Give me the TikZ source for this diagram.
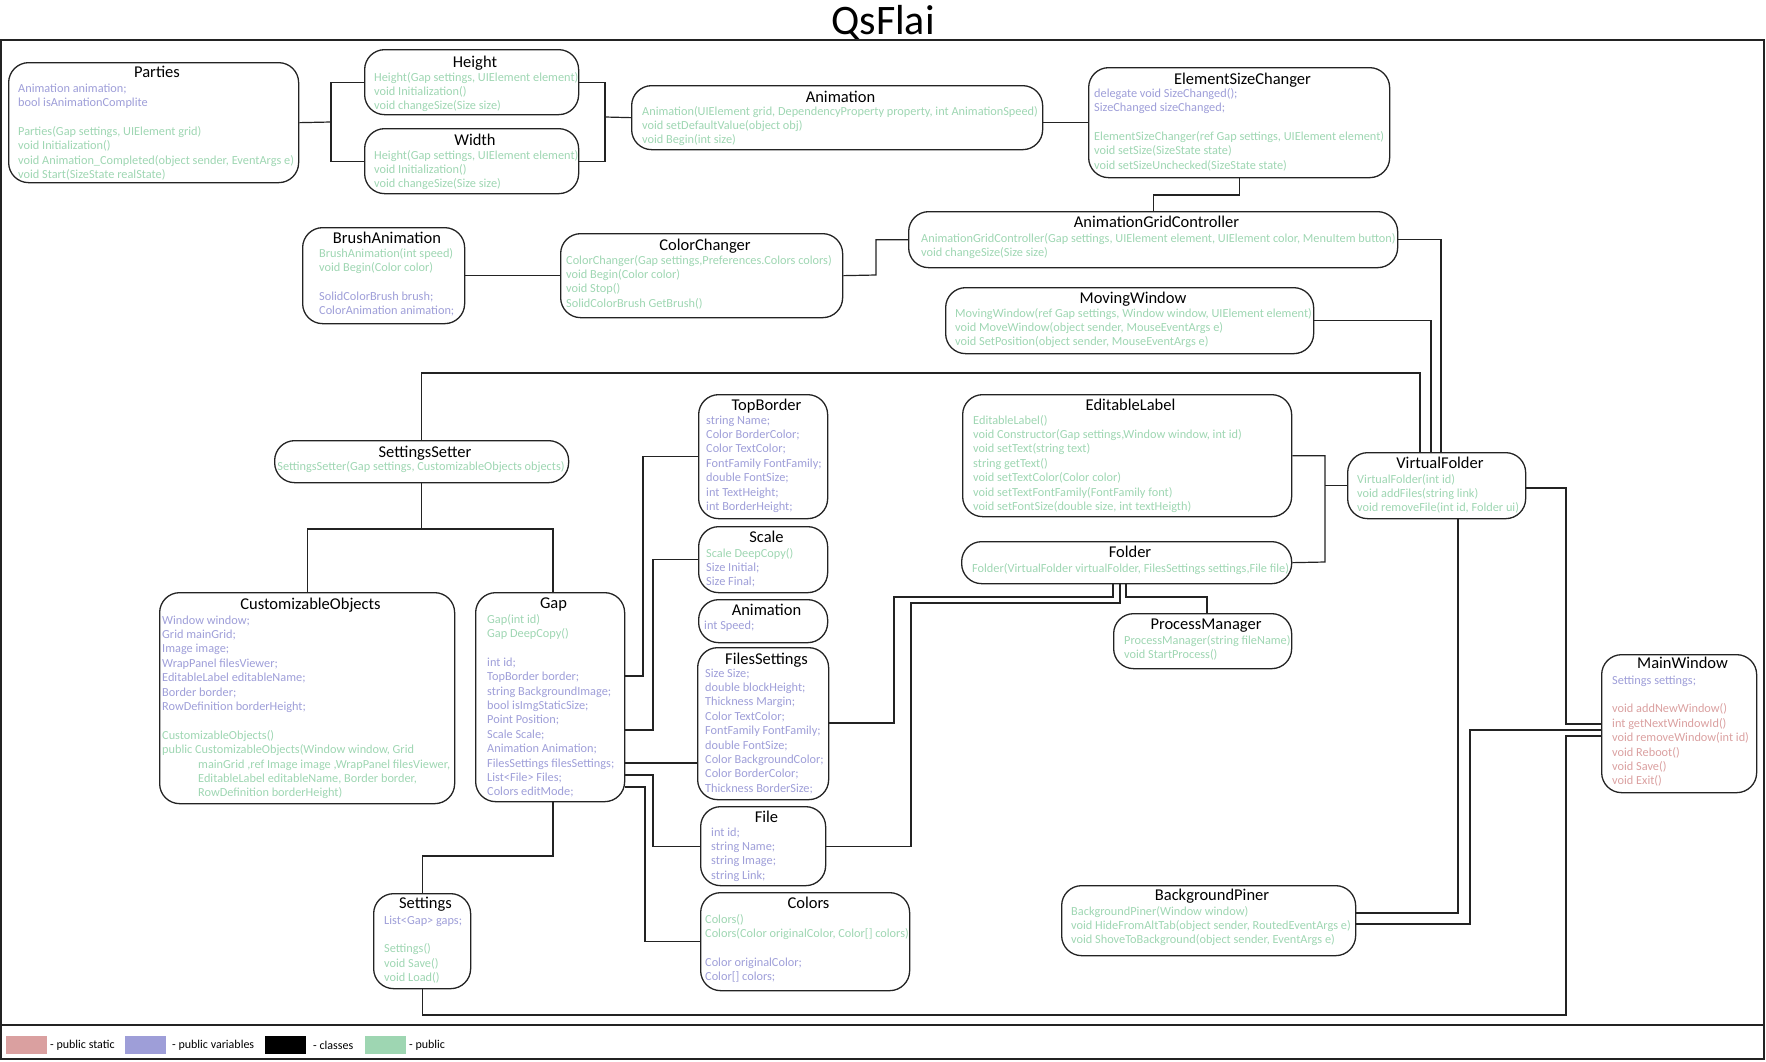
\documentclass[tikz,border=0pt]{standalone}
\usepackage{fontspec}
\setmainfont{Carlito}

\definecolor{cgreen}{RGB}{158,214,178}
\definecolor{cblue}{RGB}{158,158,216}
\definecolor{cpink}{RGB}{218,160,160}
\definecolor{cline}{RGB}{35,35,35}

% one coloured member line; \lnB is an empty line
\newcommand\lnG[1]{\hbox{\color{cgreen}#1}}
\newcommand\lnV[1]{\hbox{\color{cblue}#1}}
\newcommand\lnS[1]{\hbox{\color{cpink}#1}}
\newcommand\lnB{\hbox{}}
% stack of member lines, baseline = first line
\newcommand\members[1]{\vtop{\baselineskip=14.4pt\lineskiplimit=-20pt\relax#1}}

\tikzset{
  x=1pt, y=-1pt,
  clsbox/.style={draw=cline, line width=1.3pt, rounded corners=20pt, inner sep=0pt},
  clstitle/.style={font=\fontsize{16.5}{18}\selectfont, inner sep=0pt, text=black},
  clsbody/.style={font=\fontsize{12.3}{14.4}\selectfont, inner sep=0pt, anchor=base west},
  conn/.style={draw=cline, line width=1.2pt},
  frame/.style={draw=cline, line width=1.8pt},
  swatch/.style={inner sep=0pt, minimum width=41, minimum height=18, anchor=north west},
  legendtxt/.style={font=\fontsize{12}{14}\selectfont, inner sep=0pt, anchor=base west}
}

% class box: name, x1, y1, x2, y2, title, title baseline
\newcommand\classbox[7]{%
  \node[clsbox, minimum width={(#4)-(#2)}, minimum height={(#5)-(#3)}, anchor=north west] (#1) at (#2,#3) {};
  \node[clstitle, anchor=base] (#1-title) at ({((#2)+(#4))/2+4},#7) {#6};
}

\begin{document}
\begin{tikzpicture}
\useasboundingbox (0,0) rectangle (1766,1061);

\node[anchor=base, inner sep=0pt, font=\fontsize{42}{44}\selectfont] (heading) at (883,34) {QsFlai};

% outer frame and legend strip
\draw[frame] (1,40) rectangle (1764,1059);
\draw[frame] (1,1025) -- (1764,1025);

% ---------------- classes ----------------
\classbox{parties}{8}{62}{298}{182}{Parties}{77}
\node[clsbody] (parties-m) at (18,92) {\members{%
  \lnV{Animation animation;}\lnV{bool isAnimationComplite}\lnB
  \lnG{Parties(Gap settings, UIElement grid)}\lnG{void Initialization()}
  \lnG{void Animation\_Completed(object sender, EventArgs e)}\lnG{void Start(SizeState realState)}}};

\classbox{height}{364}{49}{578}{114}{Height}{67}
\node[clsbody] (height-m) at (374,81) {\members{%
  \lnG{Height(Gap settings, UIElement element)}\lnG{void Initialization()}\lnG{void changeSize(Size size)}}};

\classbox{width}{364}{128}{578}{193}{Width}{145}
\node[clsbody] (width-m) at (374,159) {\members{%
  \lnG{Height(Gap settings, UIElement element)}\lnG{void Initialization()}\lnG{void changeSize(Size size)}}};

\classbox{anim}{631}{85}{1042}{149}{Animation}{102}
\node[clsbody] (anim-m) at (642,115) {\members{%
  \lnG{Animation(UIElement grid, DependencyProperty property, int AnimationSpeed)}
  \lnG{void setDefaultValue(object obj)}\lnG{void Begin(int size)}}};

\classbox{esc}{1088}{67}{1389}{177}{ElementSizeChanger}{84}
\node[clsbody] (esc-m) at (1094,97) {\members{%
  \lnV{delegate void SizeChanged();}\lnV{SizeChanged sizeChanged;}\lnB
  \lnG{ElementSizeChanger(ref Gap settings, UIElement element)}
  \lnG{void setSize(SizeState state)}\lnG{void setSizeUnchecked(SizeState state)}}};

\classbox{ba}{302}{227}{464}{323}{BrushAnimation}{243}
\node[clsbody] (ba-m) at (319,257) {\members{%
  \lnG{BrushAnimation(int speed)}\lnG{void Begin(Color color)}\lnB
  \lnV{SolidColorBrush brush;}\lnV{ColorAnimation animation;}}};

\classbox{cc}{560}{233}{842}{317}{ColorChanger}{250}
\node[clsbody] (cc-m) at (566,264) {\members{%
  \lnG{ColorChanger(Gap settings,Preferences.Colors colors)}\lnG{void Begin(Color color)}
  \lnG{void Stop()}\lnG{SolidColorBrush GetBrush()}}};

\classbox{agc}{908}{211}{1397}{267}{AnimationGridController}{227}
\node[clsbody] (agc-m) at (921,242) {\members{%
  \lnG{AnimationGridController(Gap settings, UIElement element, UIElement color, MenuItem button)}
  \lnG{void changeSize(Size size)}}};

\classbox{mw}{945}{287}{1313}{353}{MovingWindow}{303}
\node[clsbody] (mw-m) at (955,317) {\members{%
  \lnG{MovingWindow(ref Gap settings, Window window, UIElement element)}
  \lnG{void MoveWindow(object sender, MouseEventArgs e)}
  \lnG{void SetPosition(object sender, MouseEventArgs e)}}};

\classbox{ss}{274}{440}{568}{482}{SettingsSetter}{457}
\node[clsbody, anchor=base] (ss-m) at (421,470) {\members{%
  \lnG{SettingsSetter(Gap settings, CustomizableObjects objects)}}};

\classbox{tb}{698}{394}{827}{518}{TopBorder}{410}
\node[clsbody] (tb-m) at (706,424) {\members{%
  \lnV{string Name;}\lnV{Color BorderColor;}\lnV{Color TextColor;}\lnV{FontFamily FontFamily;}
  \lnV{double FontSize;}\lnV{int TextHeight;}\lnV{int BorderHeight;}}};

\classbox{scale}{698}{526}{827}{592}{Scale}{542}
\node[clsbody] (scale-m) at (706,557) {\members{%
  \lnG{Scale DeepCopy()}\lnV{Size Initial;}\lnV{Size Final;}}};

\classbox{animb}{698}{599}{827}{642}{Animation}{615}
\node[clsbody] (animb-m) at (704,629) {\members{\lnV{int Speed;}}};

\classbox{el}{962}{394}{1291}{516}{EditableLabel}{410}
\node[clsbody] (el-m) at (973,424) {\members{%
  \lnG{EditableLabel()}\lnG{void Constructor(Gap settings,Window window, int id)}
  \lnG{void setText(string text)}\lnG{string getText()}\lnG{void setTextColor(Color color)}
  \lnG{void setTextFontFamily(FontFamily font)}\lnG{void setFontSize(double size, int textHeigth)}}};

\classbox{vf}{1347}{452}{1525}{518}{VirtualFolder}{468}
\node[clsbody] (vf-m) at (1357,483) {\members{%
  \lnG{VirtualFolder(int id)}\lnG{void addFiles(string link)}\lnG{void removeFile(int id, Folder ui)}}};

\classbox{folder}{961}{541}{1291}{583}{Folder}{557}
\node[clsbody] (folder-m) at (972,572) {\members{%
  \lnG{Folder(VirtualFolder virtualFolder, FilesSettings settings,File file)}}};

\classbox{pm}{1113}{613}{1291}{668}{ProcessManager}{629}
\node[clsbody] (pm-m) at (1124,644) {\members{%
  \lnG{ProcessManager(string fileName)}\lnG{void StartProcess()}}};

\classbox{co}{159}{592}{454}{803}{CustomizableObjects}{609}
\node[clsbody] (co-m) at (162,624) {\members{%
  \lnV{Window window;}\lnV{Grid mainGrid;}\lnV{Image image;}\lnV{WrapPanel filesViewer;}
  \lnV{EditableLabel editableName;}\lnV{Border border;}\lnV{RowDefinition borderHeight;}\lnB
  \lnG{CustomizableObjects()}\lnG{public CustomizableObjects(Window window, Grid}
  \lnG{\kern36pt mainGrid ,ref Image image ,WrapPanel filesViewer,}
  \lnG{\kern36pt EditableLabel editableName, Border border,}
  \lnG{\kern36pt RowDefinition borderHeight)}}};

\classbox{gap}{475}{592}{624}{801}{Gap}{608}
\node[clsbody] (gap-m) at (487,623) {\members{%
  \lnG{Gap(int id)}\lnG{Gap DeepCopy()}\lnB
  \lnV{int id;}\lnV{TopBorder border;}\lnV{string BackgroundImage;}\lnV{bool isImgStaticSize;}
  \lnV{Point Position;}\lnV{Scale Scale;}\lnV{Animation Animation;}\lnV{FilesSettings filesSettings;}
  \lnV{List<File> Files;}\lnV{Colors editMode;}}};

\classbox{fs}{697}{647}{828}{799}{FilesSettings}{664}
\node[clsbody] (fs-m) at (705,677) {\members{%
  \lnV{Size Size;}\lnV{double blockHeight;}\lnV{Thickness Margin;}\lnV{Color TextColor;}
  \lnV{FontFamily FontFamily;}\lnV{double FontSize;}\lnV{Color BackgroundColor;}
  \lnV{Color BorderColor;}\lnV{Thickness BorderSize;}}};

\classbox{file}{700}{806}{825}{885}{File}{822}
\node[clsbody] (file-m) at (711,836) {\members{%
  \lnV{int id;}\lnV{string Name;}\lnV{string Image;}\lnV{string Link;}}};

\classbox{colors}{700}{892}{909}{990}{Colors}{908}
\node[clsbody] (colors-m) at (705,923) {\members{%
  \lnG{Colors()}\lnG{Colors(Color originalColor, Color[] colors)}\lnB
  \lnV{Color originalColor;}\lnV{Color[] colors;}}};

\classbox{settings}{373}{893}{470}{988}{Settings}{908}
\node[clsbody] (settings-m) at (384,924) {\members{%
  \lnV{List<Gap> gaps;}\lnB\lnG{Settings()}\lnG{void Save()}\lnG{void Load()}}};

\classbox{bp}{1061}{885}{1355}{955}{BackgroundPiner}{900}
\node[clsbody] (bp-m) at (1071,915) {\members{%
  \lnG{BackgroundPiner(Window window)}\lnG{void HideFromAltTab(object sender, RoutedEventArgs e)}
  \lnG{void ShoveToBackground(object sender, EventArgs e)}}};

\classbox{mainw}{1601}{654}{1756}{792}{MainWindow}{668}
\node[clsbody] (mainw-m) at (1612,684) {\members{%
  \lnV{Settings settings;}\lnB
  \lnS{void addNewWindow()}\lnS{int getNextWindowId()}\lnS{void removeWindow(int id)}
  \lnS{void Reboot()}\lnS{void Save()}\lnS{void Exit()}}};

% ---------------- connectors ----------------
\draw[conn] (height.west) -| (331,122) |- (width.west);
\draw[conn] (parties.east) -- (331,122);
\draw[conn] (height.east) -| (605,117) |- (width.east);
\draw[conn] (605,117) -- (anim.west);
\draw[conn] (anim.east |- esc.west) -- (esc.west);
\draw[conn] (esc.south) -- (esc.south |- 0,195) -| (agc.north);

\draw[conn] (ba.east) -- (cc.west);
\draw[conn] (cc.east) -- (876,275) |- (agc.west);

\draw[conn] (agc.east) -| (vf.north -| 1441,0);
\draw[conn] (mw.east) -| (vf.north -| 1431,0);
\draw[conn] (ss.north) |- (1420,373) -- (vf.north -| 1420,0);

\draw[conn] (el.east) -| (1325,562) -- (folder.east);
\draw[conn] (vf.west) -- (vf.west -| 1325,0);

\draw[conn] (vf.east |- 0,488) -| (1566,724) -- (mainw.west |- 0,724);
\draw[conn] (settings.south) |- (1566,1015) |- (mainw.west |- 0,736);
\draw[conn] (mainw.west |- 0,730) -| (1470,924) -- (bp.east |- 0,924);
\draw[conn] (vf.south -| 1458,0) |- (bp.east |- 0,913);

\draw[conn] (ss.south) -- (ss.south |- 0,529);
\draw[conn] (co.north) |- (553,529) -- (gap.north -| 553,0);
\draw[conn] (gap.south -| 553,0) -- (553,856) -| (settings.north);

\draw[conn] (gap.east |- 0,676) -| (tb.west -| 643,0) -- (tb.west);
\draw[conn] (gap.east |- 0,730) -| (scale.west -| 653,0) -- (scale.west);
\draw[conn] (gap.east |- 0,763) -- (fs.west |- 0,763);
\draw[conn] (gap.east |- 0,775) -| (file.west -| 653,0) -- (file.west);
\draw[conn] (gap.east |- 0,787) -| (colors.west -| 645,0) -- (colors.west);

\draw[conn] (fs.east |- 0,723) -| (894,597) -| (folder.south -| 1113,0);
\draw[conn] (file.east) -| (911,603) -| (folder.south -| 1120,0);
\draw[conn] (folder.south -| 1126,0) |- (1207,597) -- (pm.north -| 1207,0);

% ---------------- legend ----------------
\node[swatch, fill=cpink] (lg-static) at (6,1036) {};
\node[legendtxt] (lg-static-t) at (50,1048) {- public static};
\node[swatch, fill=cblue] (lg-var) at (125,1036) {};
\node[legendtxt] (lg-var-t) at (172,1048) {- public variables};
\node[swatch, fill=black] (lg-cls) at (265,1036) {};
\node[legendtxt] (lg-cls-t) at (313,1049) {- classes};
\node[swatch, fill=cgreen] (lg-pub) at (365,1036) {};
\node[legendtxt] (lg-pub-t) at (409,1048) {- public};
\end{tikzpicture}
\end{document}
